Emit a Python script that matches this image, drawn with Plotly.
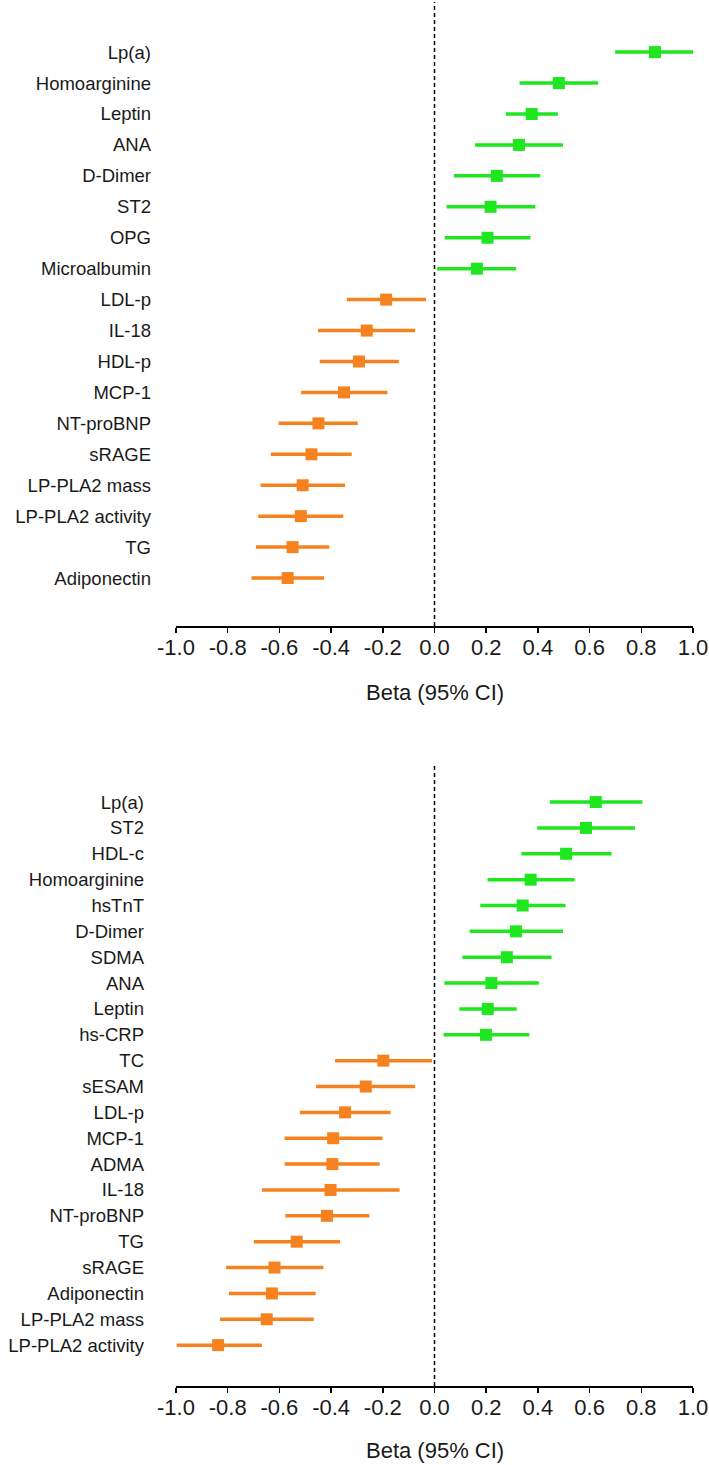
import plotly.graph_objects as go

# ---------------- data (top to bottom) ----------------
labels_a = ["Lp(a)", "Homoarginine", "Leptin", "ANA", "D-Dimer", "ST2", "OPG",
            "Microalbumin", "LDL-p", "IL-18", "HDL-p", "MCP-1", "NT-proBNP",
            "sRAGE", "LP-PLA2 mass", "LP-PLA2 activity", "TG", "Adiponectin"]
beta_a = [0.853, 0.481, 0.376, 0.327, 0.241, 0.217, 0.205, 0.164, -0.187,
          -0.262, -0.292, -0.350, -0.449, -0.476, -0.510, -0.517, -0.549, -0.568]
lo_a = [0.699, 0.329, 0.276, 0.157, 0.075, 0.047, 0.040, 0.010, -0.339,
        -0.451, -0.444, -0.516, -0.603, -0.633, -0.673, -0.682, -0.691, -0.708]
hi_a = [1.01, 0.633, 0.477, 0.497, 0.409, 0.390, 0.371, 0.316, -0.033,
        -0.075, -0.138, -0.182, -0.297, -0.320, -0.346, -0.353, -0.407, -0.427]

labels_b = ["Lp(a)", "ST2", "HDL-c", "Homoarginine", "hsTnT", "D-Dimer", "SDMA",
            "ANA", "Leptin", "hs-CRP", "TC", "sESAM", "LDL-p", "MCP-1", "ADMA",
            "IL-18", "NT-proBNP", "TG", "sRAGE", "Adiponectin", "LP-PLA2 mass",
            "LP-PLA2 activity"]
beta_b = [0.624, 0.586, 0.509, 0.372, 0.341, 0.315, 0.280, 0.220, 0.206, 0.199,
          -0.198, -0.266, -0.346, -0.392, -0.395, -0.402, -0.416, -0.533,
          -0.619, -0.629, -0.649, -0.837]
lo_b = [0.446, 0.397, 0.336, 0.205, 0.177, 0.136, 0.108, 0.038, 0.096, 0.035,
        -0.385, -0.458, -0.521, -0.580, -0.580, -0.668, -0.577, -0.699,
        -0.806, -0.795, -0.830, -0.997]
hi_b = [0.804, 0.776, 0.685, 0.542, 0.507, 0.497, 0.453, 0.404, 0.318, 0.367,
        -0.009, -0.075, -0.170, -0.201, -0.212, -0.135, -0.252, -0.365,
        -0.430, -0.460, -0.467, -0.668]

tick_vals = [-1.0, -0.8, -0.6, -0.4, -0.2, 0.0, 0.2, 0.4, 0.6, 0.8, 1.0]
tick_labels = ["-1.0", "-0.8", "-0.6", "-0.4", "-0.2", "0.0", "0.2", "0.4",
               "0.6", "0.8", "1.0"]
x_title = "Beta (95% CI)"

# ---------------- style ----------------
GREEN = "#1FE61F"
ORANGE = "#F5821F"
FONT = "Liberation Sans, Arial, sans-serif"
TXT = "#1a1a1a"

W, H = 709, 1465
ML, MR, MT, MB = 176, 16, 2, 79
plot_h = H - MT - MB


def py(pix):
    """pixel y (from top) -> paper coordinate"""
    return (H - MB - pix) / plot_h


fig = go.Figure()


def add_panel(labels, beta, lo, hi, xa, ya):
    for positive, color in ((True, GREEN), (False, ORANGE)):
        idx = [i for i, b in enumerate(beta) if (b > 0) == positive]
        fig.add_trace(go.Scatter(
            x=[beta[i] for i in idx],
            y=[labels[i] for i in idx],
            mode="markers",
            marker=dict(symbol="square", size=12, color=color, line=dict(width=0)),
            error_x=dict(type="data", symmetric=False,
                         array=[hi[i] - beta[i] for i in idx],
                         arrayminus=[beta[i] - lo[i] for i in idx],
                         color=color, thickness=3.5, width=0),
            xaxis=xa, yaxis=ya, showlegend=False, cliponaxis=False,
            hoverinfo="skip",
        ))


add_panel(labels_a, beta_a, lo_a, hi_a, "x", "y")
add_panel(labels_b, beta_b, lo_b, hi_b, "x2", "y2")

xcommon = dict(range=[-1.0, 1.0], tickmode="array", tickvals=tick_vals,
               ticktext=tick_labels, showline=True, linecolor="black",
               linewidth=1.5, ticks="outside", ticklen=5, tickwidth=1.5,
               tickcolor="black", showgrid=False, zeroline=False,
               ticklabelstandoff=-4,
               tickfont=dict(family=FONT, size=22, color=TXT), fixedrange=True)

fig.update_layout(
    width=W, height=H,
    margin=dict(l=ML, r=MR, t=MT, b=MB),
    paper_bgcolor="white", plot_bgcolor="white",
    xaxis=dict(domain=[0, 1], anchor="y", **xcommon),
    xaxis2=dict(domain=[0, 1], anchor="y2", **xcommon),
    yaxis=dict(domain=[py(626), 1.0], anchor="x", type="category",
               categoryorder="array", categoryarray=labels_a,
               range=[len(labels_a) - 1 + 1.55, -1.62],
               showline=False, ticks="", showgrid=False, zeroline=False,
               ticklabelstandoff=24,
               tickfont=dict(family=FONT, size=18.5, color=TXT)),
    yaxis2=dict(domain=[0.0, py(763)], anchor="x2", type="category",
                categoryorder="array", categoryarray=labels_b,
                range=[len(labels_b) - 1 + 1.58, -1.51],
                showline=False, ticks="", showgrid=False, zeroline=False,
                ticklabelstandoff=31,
                tickfont=dict(family=FONT, size=18.5, color=TXT)),
    font=dict(family=FONT, color=TXT),
)

# dashed reference line at beta = 0 on each panel
for xr, yr in (("x", "y domain"), ("x2", "y2 domain")):
    fig.add_shape(type="line", xref=xr, yref=yr, x0=0, x1=0, y0=0, y1=1,
                  line=dict(color="black", width=1.5, dash="4px,3px"))

# axis titles
for ypix in (692, 1450):
    fig.add_annotation(text=x_title, xref="paper", yref="paper", x=0.5,
                       y=py(ypix), xanchor="center", yanchor="middle",
                       showarrow=False,
                       font=dict(family=FONT, size=22, color=TXT))

fig.write_html(
    "out.html",
    config={"displayModeBar": False, "staticPlot": True},
    post_script="document.body.style.margin='0';"
                "document.body.style.overflow='hidden';",
)
